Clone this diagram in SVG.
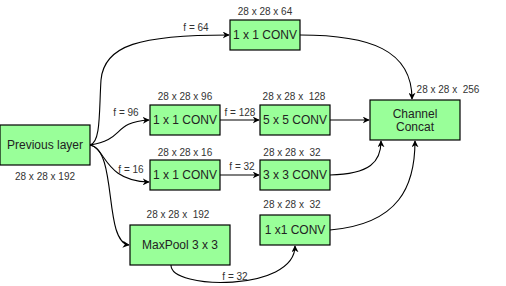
<svg xmlns="http://www.w3.org/2000/svg" width="506" height="286" viewBox="0 0 506 286">
<defs>
<marker id="arr" viewBox="0 0 10 10" refX="9" refY="5" markerWidth="7" markerHeight="7" orient="auto" markerUnits="userSpaceOnUse">
<path d="M0,0 L10,5 L0,10 L3,5 Z" fill="#000"/>
</marker>
<style>
.box{fill:#99ff99;stroke:#000;stroke-width:1.2}
.lbl{font-family:"Liberation Sans",Arial,sans-serif;font-size:12px;fill:#222;text-anchor:middle;dominant-baseline:central}
.sm{font-family:"Liberation Sans",Arial,sans-serif;font-size:10px;fill:#333;text-anchor:middle;dominant-baseline:central;white-space:pre}
.e{fill:none;stroke:#000;stroke-width:1.1;marker-end:url(#arr)}
</style>
</defs>
<rect width="506" height="286" fill="#fff"/>
<g id="connectors">
<path class="e" d="M90,145 C101,143 99,110 101,80 C104,45 140,35 229,35"/>
<path class="e" d="M90,145 C125,140 112,122 149,120"/>
<path class="e" d="M90,145 C106,148 104,181 149,182"/>
<path class="e" d="M90,145 C118,150 103,242 129,245"/>
<path class="e" d="M220,120 L259,120"/>
<path class="e" d="M330,120 L369,120"/>
<path class="e" d="M220,175 L259,175"/>
<path class="e" d="M330,175 C370,174 381,162 381,141"/>
<path class="e" d="M330,230 C400,224 415,185 415,141"/>
<path class="e" d="M300,35 C370,35 412,50 412,99"/>
<path class="e" d="M171,265 C170,290 295,292 295,246"/>
</g>
<g id="prev"><rect class="box" x="0" y="125" width="90" height="40"/><text class="lbl" x="45" y="145">Previous layer</text><text class="sm" x="45" y="176">28 x 28 x 192</text></g>
<g id="conv1a"><rect class="box" x="230" y="20" width="70" height="30"/><text class="lbl" x="265" y="35">1 x 1 CONV</text><text class="sm" x="265" y="11">28 x 28 x 64</text></g>
<g id="conv1b"><rect class="box" x="150" y="105" width="70" height="30"/><text class="lbl" x="185" y="120">1 x 1 CONV</text><text class="sm" x="185" y="96">28 x 28 x 96</text></g>
<g id="conv5"><rect class="box" x="260" y="105" width="70" height="30"/><text class="lbl" x="295" y="120">5 x 5 CONV</text><text class="sm" x="294" y="96" xml:space="preserve">28 x 28 x  128</text></g>
<g id="concat"><rect class="box" x="370" y="100" width="90" height="40"/><text class="lbl" x="415" y="114">Channel</text><text class="lbl" x="415" y="127">Concat</text><text class="sm" x="448" y="89" xml:space="preserve">28 x 28 x  256</text></g>
<g id="conv1c"><rect class="box" x="150" y="160" width="70" height="30"/><text class="lbl" x="185" y="175">1 x 1 CONV</text><text class="sm" x="185" y="152">28 x 28 x 16</text></g>
<g id="conv3"><rect class="box" x="260" y="160" width="70" height="30"/><text class="lbl" x="295" y="175">3 x 3 CONV</text><text class="sm" x="292" y="152" xml:space="preserve">28 x 28 x  32</text></g>
<g id="conv1d"><rect class="box" x="260" y="215" width="70" height="30"/><text class="lbl" x="295" y="230">1 x1 CONV</text><text class="sm" x="292" y="204" xml:space="preserve">28 x 28 x  32</text></g>
<g id="maxpool"><rect class="box" x="130" y="225" width="100" height="40"/><text class="lbl" x="180" y="245">MaxPool 3 x 3</text><text class="sm" x="178" y="214" xml:space="preserve">28 x 28 x  192</text></g>
<g id="edge-labels">
<text class="sm" x="196" y="27">f = 64</text>
<text class="sm" x="126" y="112">f = 96</text>
<text class="sm" x="240" y="112">f = 128</text>
<text class="sm" x="131" y="169">f = 16</text>
<text class="sm" x="242" y="166">f = 32</text>
<text class="sm" x="235" y="276">f = 32</text>
</g>
</svg>
